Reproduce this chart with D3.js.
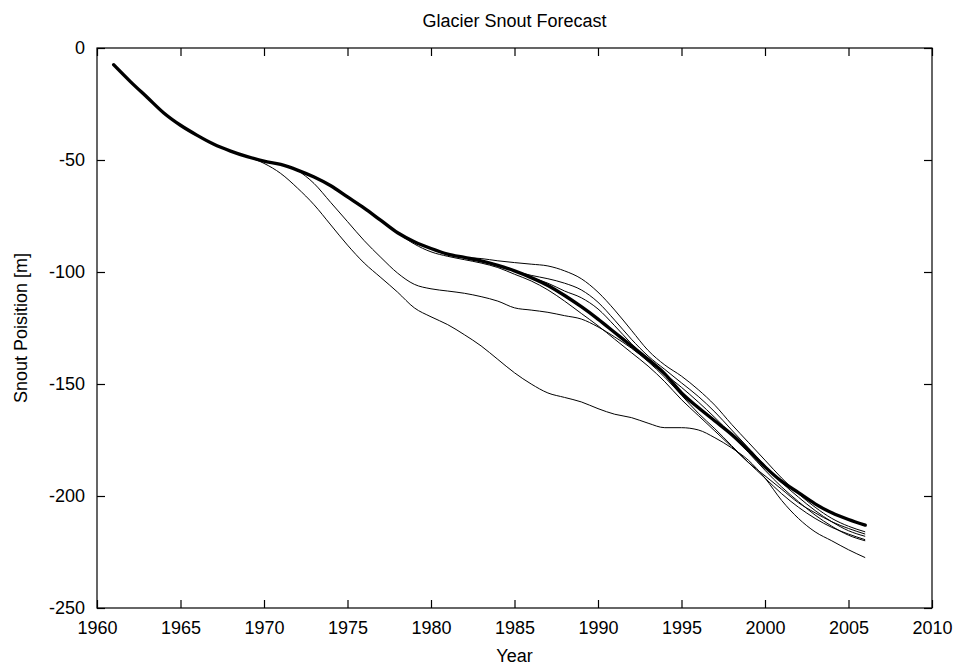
<!DOCTYPE html>
<html>
<head>
<meta charset="utf-8">
<script src="https://cdn.jsdelivr.net/npm/d3@7"></script>
<style>
  body { margin: 0; background: #fff; }
  text { font-family: "Liberation Sans", Arial, sans-serif; fill: #000; }
</style>
</head>
<body>
<div id="chart"></div>
<script>
// measured snout position (thick line)
const measuredYears = d3.range(1961, 2007);
const measured = [-7.5, -15, -22, -29, -34.5, -39, -43, -46, -48.5, -50.5,
  -52, -54.5, -57.6, -61.5, -66.5, -71.5, -77, -82.5, -86.5, -89.5,
  -92, -93.5, -95, -97, -99.5, -102.5, -106, -110.5, -115.5, -121,
  -127, -133, -139, -145.5, -154, -160.5, -166.5, -172.5, -179.5, -187,
  -193.5, -198.5, -203.5, -207.5, -210.5, -213];

// forecast runs, each starting at a different year and ending in 2006
const forecastStarts = [1969, 1972, 1978, 1982, 1983, 1986];
const forecast1969 = [-48.5, -51.5, -56, -62.5, -70, -79, -88, -96, -102.5, -109,
  -116, -120, -123.5, -128, -133, -139, -145, -150, -154, -156,
  -158, -161, -163.5, -165, -167.5, -169.5, -169.5, -170.5, -174, -178.5,
  -184, -192, -202, -210, -216, -220, -224, -227.5];
const forecast1972 = [-54.5, -60.5, -69, -77.5, -86, -93.5, -100.5, -105.5, -107.5, -108.5,
  -109.5, -111, -113, -116, -117, -118, -119.5, -121, -124.5, -129,
  -134, -140, -147, -155, -163, -170, -177.5, -185, -192, -199,
  -205, -210, -214, -217, -219.5];
const forecast1978 = [-82.5, -87.5, -91, -93, -94.5, -96, -98, -101, -104, -108,
  -113, -118.5, -124, -130, -136, -142, -149, -157, -164, -171,
  -178, -185, -191, -197, -203, -207.5, -211.5, -214.5, -217];
const forecast1982 = [-93.5, -94, -95, -95.8, -96.5, -97.3, -99.5, -103, -109, -117,
  -126, -135, -141.5, -146.5, -152.5, -159.5, -168, -176, -184, -192,
  -199, -205, -210, -213.5, -216];
const forecast1983 = [-95, -97, -99.5, -101.5, -103, -105, -108, -113.5, -121.5, -130,
  -137.5, -143.5, -149.5, -155.5, -162.5, -170.5, -178.5, -186.5, -194, -200.5,
  -206.5, -211.5, -215.5, -218];
const forecast1986 = [-102.5, -105, -108.5, -111.5, -116.5, -124, -132, -139.5, -145.5, -151.5,
  -158, -165, -172.5, -180.5, -188.5, -196, -202.5, -208.5, -213.5, -217.5, -220];

const forecasts = [forecast1969, forecast1972, forecast1978, forecast1982, forecast1983, forecast1986];

const xTicks = d3.range(1960, 2011, 5);
const yTicks = [0, -50, -100, -150, -200, -250];

const width = 958, height = 666;
const margin = { top: 48, right: 26, bottom: 58, left: 97 };

const svg = d3.select("#chart").append("svg")
    .attr("width", width)
    .attr("height", height);

const x = d3.scaleLinear().domain([1960, 2010]).range([margin.left, width - margin.right]);
const y = d3.scaleLinear().domain([-250, 0]).range([height - margin.bottom, margin.top]);

const line = d3.line()
    .x(d => x(d[0]))
    .y(d => y(d[1]))
    .curve(d3.curveMonotoneX);

// forecasts first (thin)
forecasts.forEach((vals, i) => {
    const pts = vals.map((v, j) => [forecastStarts[i] + j, v]);
    svg.append("path")
        .datum(pts)
        .attr("fill", "none")
        .attr("stroke", "#000")
        .attr("stroke-width", 1)
        .attr("d", line);
});

// measured (thick)
svg.append("path")
    .datum(measured.map((v, i) => [measuredYears[i], v]))
    .attr("fill", "none")
    .attr("stroke", "#000")
    .attr("stroke-width", 3.4)
    .attr("stroke-linecap", "round")
    .attr("d", line);

// axes with inward ticks, mirrored on top/right
const tickLen = 8;
const fontSize = "18px";
const plain = d => String(d); // keep ascii hyphen like the original

svg.append("g")
    .attr("transform", `translate(0,${y(-250)})`)
    .call(d3.axisBottom(x).tickValues(xTicks).tickSizeInner(-tickLen).tickSizeOuter(0).tickPadding(13).tickFormat(plain))
    .call(g => g.selectAll("text").style("font-size", fontSize));

svg.append("g")
    .attr("transform", `translate(0,${y(0)})`)
    .call(d3.axisTop(x).tickValues(xTicks).tickSizeInner(-tickLen).tickSizeOuter(0).tickFormat(""));

svg.append("g")
    .attr("transform", `translate(${x(1960)},0)`)
    .call(d3.axisLeft(y).tickValues(yTicks).tickSizeInner(-tickLen).tickSizeOuter(0).tickPadding(12).tickFormat(plain))
    .call(g => g.selectAll("text").style("font-size", fontSize));

svg.append("g")
    .attr("transform", `translate(${x(2010)},0)`)
    .call(d3.axisRight(y).tickValues(yTicks).tickSizeInner(-tickLen).tickSizeOuter(0).tickFormat(""));

svg.selectAll(".domain").remove();
svg.selectAll(".tick line").attr("stroke", "#000").attr("stroke-width", 1.2);

// frame
svg.append("rect")
    .attr("x", x(1960))
    .attr("y", y(0))
    .attr("width", x(2010) - x(1960))
    .attr("height", y(-250) - y(0))
    .attr("fill", "none")
    .attr("stroke", "#000")
    .attr("stroke-width", 1.2);

// title and axis labels
svg.append("text")
    .attr("x", (x(1960) + x(2010)) / 2)
    .attr("y", 27)
    .attr("text-anchor", "middle")
    .style("font-size", fontSize)
    .text("Glacier Snout Forecast");

svg.append("text")
    .attr("x", (x(1960) + x(2010)) / 2)
    .attr("y", 662)
    .attr("text-anchor", "middle")
    .style("font-size", fontSize)
    .text("Year");

svg.append("text")
    .attr("transform", `translate(27,${(y(0) + y(-250)) / 2}) rotate(-90)`)
    .attr("text-anchor", "middle")
    .style("font-size", fontSize)
    .text("Snout Poisition [m]");
</script>
</body>
</html>
